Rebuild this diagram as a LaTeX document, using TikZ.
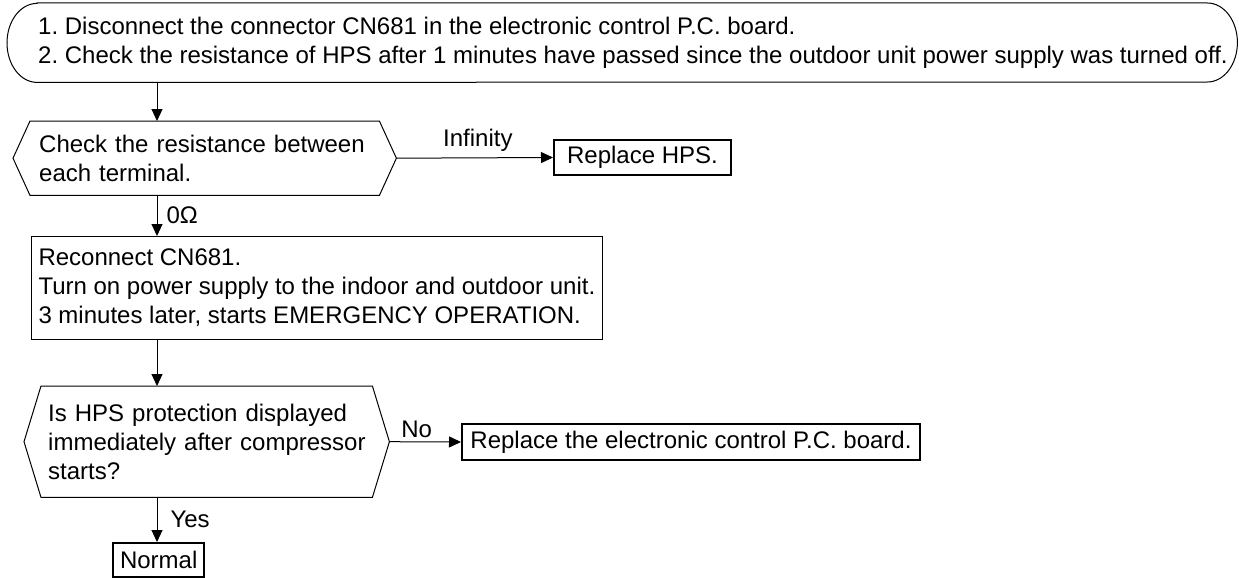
\documentclass[tikz,border=0pt]{standalone}
\usepackage{fontspec}
\setmainfont{Liberation Sans}
\usetikzlibrary{arrows.meta}
\frenchspacing
\tikzset{
  basefont/.style={font=\fontsize{24}{29}\selectfont},
  frame/.style={draw=none, inner sep=0, anchor=north west, basefont, align=left},
  procbox/.style={draw, line width=1pt, inner ysep=0, anchor=north west, basefont, align=left},
  endbox/.style={draw, line width=2pt, inner ysep=0, inner xsep=7, basefont},
  hexline/.style={draw, line width=1pt, line join=miter},
  arr/.style={-{Triangle[length=12,width=11]}, line width=1pt},
  lbl/.style={basefont, inner sep=0}
}
\begin{document}
\begin{tikzpicture}[x=1pt,y=-1pt]
\useasboundingbox (0,0) rectangle (1239,578);
\coordinate (spine) at (157,0);

% start terminator
\node[frame, minimum width=1230, minimum height=79] (start) at (7,3) {};
\draw[line width=1pt] ([xshift=30]start.north west) -- ([xshift=-30]start.north east)
  arc[start angle=90, end angle=-90, x radius=30pt, y radius=39.5pt]
  -- ([xshift=30]start.south west)
  arc[start angle=270, end angle=90, x radius=30pt, y radius=39.5pt] -- cycle;
\node[lbl, anchor=west, align=left] (starttext) at (38,42.5)
  {1. Disconnect the connector CN681 in the electronic control P.C. board.\\
   2. Check the resistance of HPS after 1 minutes have passed since the outdoor unit power supply was turned off.};

% decision 1
\node[frame, minimum width=383, minimum height=74, inner xsep=26, text width=331] (q1) at (13,121)
  {Check the resistance between\\each terminal.};
\draw[hexline] (q1.west) -- ([xshift=17]q1.north west) -- ([xshift=-17]q1.north east)
  -- (q1.east) -- ([xshift=-17]q1.south east) -- ([xshift=17]q1.south west) -- cycle;

% replace HPS
\node[endbox, minimum width=177, minimum height=35, anchor=west] (r1) at (553,157.5) {Replace HPS.};

% process box
\node[procbox, minimum height=103, inner xsep=7] (p1) at (31,236)
  {Reconnect CN681.\\Turn on power supply to the indoor and outdoor unit.\\3 minutes later, starts EMERGENCY OPERATION.};

% decision 2
\node[frame, minimum height=111, inner xsep=24, text width=330] (q2) at (24,386)
  {Is HPS protection displayed\\immediately after compressor\\starts?};
\coordinate (q2e) at ([xshift=-13]q2.east);
\draw[hexline] (q2.west) -- ([xshift=17]q2.north west) -- ([xshift=-30]q2.north east)
  -- (q2e) -- ([xshift=-30]q2.south east) -- ([xshift=17]q2.south west) -- cycle;

% replace board
\node[endbox, minimum width=458, minimum height=36, anchor=west] (r2) at (461,442) {Replace the electronic control P.C. board.};

% normal
\node[endbox, minimum height=34, anchor=north west] (n1) at (112,542) {Normal};

% connectors
\draw[arr] (start.south -| spine) -- (q1.north -| spine);
\draw[arr] (q1.east) -- (r1.west) node[lbl, pos=0.52, above=6pt] (linf) {Infinity};
\draw[arr] (q1.south -| spine) -- (p1.north -| spine) node[lbl, midway, right=9pt] (lzero) {0Ω};
\draw[arr] (p1.south -| spine) -- (q2.north -| spine);
\draw[arr] (q2e) -- (r2.west) node[lbl, pos=0.38, above=4pt] (lno) {No};
\draw[arr] (q2.south -| spine) -- (n1.north -| spine) node[lbl, midway, right=13pt] (lyes) {Yes};
\end{tikzpicture}
\end{document}
